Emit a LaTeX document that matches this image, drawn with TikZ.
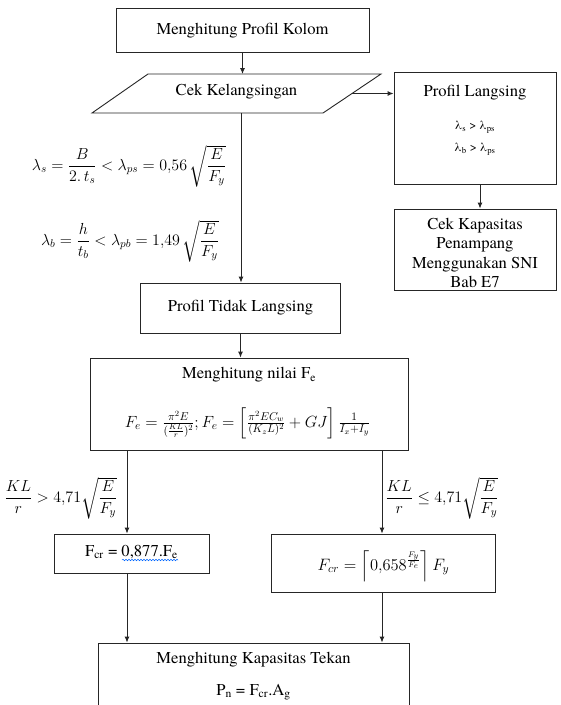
\RequirePackage{fix-cm}
\documentclass[tikz,border=0pt]{standalone}
\usepackage{amsmath}
\usepackage{fontspec}
\IfFontExistsTF{TeX Gyre Termes}
  {\setmainfont{TeX Gyre Termes}}
  {\setmainfont{Liberation Serif}}
\usetikzlibrary{arrows.meta,decorations.pathmorphing}
\tikzset{
  box/.style={draw=black!85, line width=0.9pt, inner sep=0pt},
  txt/.style={font=\fontsize{16.6}{19}\selectfont, inner sep=0pt, align=center},
  small/.style={font=\fontsize{12.5}{14}\selectfont, inner sep=0pt},
  mth/.style={font=\fontsize{16}{18}\selectfont, inner sep=0pt},
  ln/.style={draw=black!85, line width=0.9pt},
  arr/.style={ln, -{Latex[length=6pt,width=5pt]}},
  wavy/.style={draw=blue!60!cyan, line width=0.5pt, decorate,
    decoration={snake, amplitude=0.8pt, segment length=3pt}}
}
\begin{document}
\begin{tikzpicture}[x=1pt,y=-1pt]
\clip (0,0) rectangle (561,705);
\fill[white] (0,0) rectangle (561,705);

% top box
\node[box, txt, minimum width=253pt, minimum height=44pt] (b1) at (242.5,30.5) {Menghitung Profil Kolom};

% parallelogram
\draw[ln] (148,74) coordinate (ptl) -- (381,74) -- (323,113) -- (92,113) -- cycle;
\node[txt] (cek) at (236.5,92) {Cek Kelangsingan};
\coordinate (ptop) at (242.5,74);
\coordinate (pr) at (352,93.5);
\coordinate (pb) at (241,113);

% right column
\node[box, minimum width=162pt, minimum height=112pt] (pl) at (475,128) {};
\node[txt] (plt) at (475,93) {Profil Langsing};
\node[small] (pl1) at (475,127) {λ\textsubscript{s} > λ\textsubscript{ps}};
\node[small] (pl2) at (475,149) {λ\textsubscript{b} > λ\textsubscript{ps}};
\node[box, minimum width=162pt, minimum height=81pt] (ck) at (475,249.5) {};
\node[txt, font=\fontsize{16.6}{19.5}\selectfont] (ckt) at (475,253) {Cek Kapasitas\\Penampang\\Menggunakan SNI\\Bab E7};

% slenderness formulas
\node[mth] (f1) at (129,166) {$\lambda_s = \dfrac{B}{2.\,t_s} < \lambda_{ps} = 0{,}56\,\sqrt{\dfrac{E}{F_y}}$};
\node[mth] (f2) at (130,241) {$\lambda_b = \dfrac{h}{t_b} < \lambda_{pb} = 1{,}49\,\sqrt{\dfrac{E}{F_y}}$};

% middle
\node[box, txt, minimum width=200pt, minimum height=50pt] (tl) at (240.5,308) {Profil Tidak Langsing};
\node[box, minimum width=318pt, minimum height=92pt] (fe) at (249,404) {};
\node[txt] (fet) at (249,375) {Menghitung nilai F\textsubscript{e}};
\node[mth, font=\fontsize{16.2}{19}\selectfont] (fef) at (247.5,423) {$F_e = \frac{\pi^2 E}{(\frac{KL}{r})^2}; F_e = \left[\frac{\pi^2 E C_w}{(K_z L)^2} + GJ\right]\frac{1}{I_x+I_y}$};
\coordinate (fl) at (127,450);
\coordinate (fr) at (382,450);

% branch labels
\node[mth] (kl1) at (61,498) {$\dfrac{KL}{r} > 4{,}71\sqrt{\dfrac{E}{F_y}}$};
\node[mth] (kl2) at (442,498) {$\dfrac{KL}{r} \le 4{,}71\sqrt{\dfrac{E}{F_y}}$};

% Fcr boxes
\node[box, minimum width=155pt, minimum height=39pt] (fcl) at (131.5,553.5) {};
\node[txt] (fclt) at (131.5,552) {F\textsubscript{cr} = 0,877.F\textsubscript{e}};
\draw[wavy] (122,560) -- (178,560);
\node[box, minimum width=224pt, minimum height=58pt] (fcr) at (383,563) {};
\node[mth, font=\fontsize{16.5}{18}\selectfont] (fcrt) at (383.5,566) {$F_{cr} = \left\lceil 0{,}658^{\frac{F_y}{F_e}}\right\rceil F_y$};

% bottom box
\node[box, minimum width=311pt, minimum height=80pt] (bt) at (253.5,683) {};
\node[txt] (btt) at (253.5,660) {Menghitung Kapasitas Tekan};
\node[txt] (btp) at (253.5,692) {P\textsubscript{n} = F\textsubscript{cr}.A\textsubscript{g}};

% connectors
\draw[arr] (b1.south) -- (ptop);
\draw[arr] (pr) -- (pl.west |- pr);
\draw[arr] ([xshift=5pt]pl.south) -- ([xshift=5pt]ck.north);
\draw[arr] (pb) -- (pb |- tl.north);
\draw[arr] (tl.south) -- (tl.south |- fe.north);
\draw[arr] (fl) -- (fl |- fcl.north);
\draw[arr] (fr) -- (fr |- fcr.north);
\draw[arr] (fl |- fcl.south) -- (fl |- bt.north);
\draw[arr] (fr |- fcr.south) -- (fr |- bt.north);
\end{tikzpicture}
\end{document}
